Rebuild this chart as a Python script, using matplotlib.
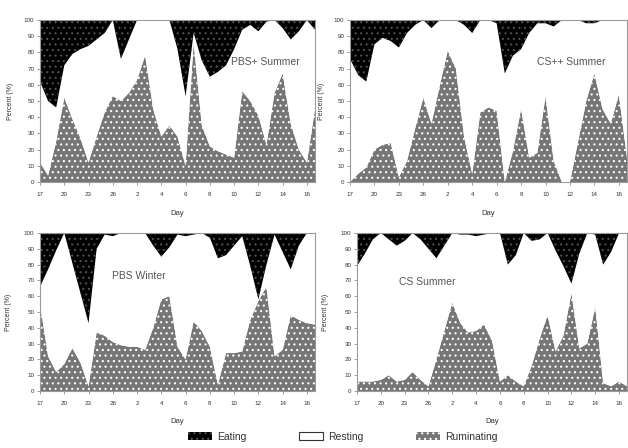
import matplotlib
matplotlib.use('Agg')
import matplotlib.pyplot as plt
from matplotlib.patches import Patch
import numpy as np

plt.rcParams['font.family'] = ['Liberation Sans', 'DejaVu Sans']
plt.rcParams['hatch.linewidth'] = 0.8

# ---------------- data (percent of time) ----------------
day_labels = ['17', '20', '23', '26', '2', '4', '6', '8', '10', '12', '14', '16']
y_ticks = [0, 10, 20, 30, 40, 50, 60, 70, 80, 90, 100]

pbs_plus_summer_eating = [38, 50, 54, 28, 21, 18, 16, 12, 8, 0, 24, 12, 0, 0, 0, 0, 0, 18,
                          47, 8, 25, 35, 32, 28, 18, 6, 3, 7, 1, 0, 5, 12, 7, 0, 6]
pbs_plus_summer_ruminating = [12, 4, 25, 52, 39, 27, 12, 28, 43, 53, 50, 55, 63, 78, 45, 28, 35, 28,
                              10, 86, 35, 22, 19, 17, 15, 56, 50, 41, 23, 55, 67, 36, 20, 12, 45]

cs_pp_summer_eating = [24, 34, 38, 15, 11, 13, 17, 8, 3, 0, 5, 0, 0, 0, 3, 8, 0, 0,
                       2, 33, 22, 18, 8, 2, 2, 4, 0, 0, 0, 2, 2, 0, 0, 0, 0]
cs_pp_summer_ruminating = [0, 5, 9, 20, 23, 24, 3, 13, 33, 52, 36, 59, 81, 70, 28, 5, 43, 46,
                           44, 0, 19, 45, 15, 18, 53, 13, 0, 0, 25, 50, 67, 45, 36, 54, 15]

pbs_winter_eating = [34, 23, 11, 0, 19, 38, 57, 10, 1, 2, 0, 0, 0, 0, 8, 15, 9, 1,
                     2, 1, 0, 3, 16, 14, 8, 2, 21, 42, 20, 1, 12, 23, 8, 0, 0]
pbs_winter_ruminating = [55, 22, 12, 17, 27, 18, 3, 37, 35, 31, 29, 28, 28, 26, 40, 58, 60, 28,
                         20, 44, 38, 28, 4, 24, 24, 25, 45, 57, 66, 22, 26, 48, 45, 43, 42]

cs_summer_eating = [21, 13, 4, 0, 4, 8, 5, 0, 4, 10, 16, 8, 0, 1, 1, 2, 1, 0,
                    0, 20, 14, 0, 5, 4, 0, 11, 21, 32, 13, 0, 1, 20, 12, 0, 0]
cs_summer_ruminating = [6, 6, 6, 7, 10, 6, 7, 12, 7, 3, 20, 38, 56, 43, 37, 38, 42, 32,
                        6, 10, 6, 3, 16, 33, 48, 25, 35, 62, 27, 30, 53, 5, 3, 6, 3]

panel_titles = ['PBS+ Summer', 'CS++ Summer', 'PBS Winter', 'CS Summer']
legend_labels = ['Eating', 'Resting', 'Ruminating']

# ---------------- styles ----------------
GRAY = '#767676'
EAT_DOT = '#505050'
TXT = '#333333'
W, H = 628, 448

fig = plt.figure(figsize=(W / 100, H / 100), dpi=100)


def px_axes(left, top, right, bottom):
    return fig.add_axes([left / W, 1 - bottom / H, (right - left) / W, (bottom - top) / H])


def draw(ax, eating, ruminating, title, title_pos, ylab_x):
    eating = np.asarray(eating, float)
    ruminating = np.asarray(ruminating, float)
    resting = 100 - eating - ruminating
    x = np.arange(len(ruminating))
    lvl1 = ruminating
    lvl2 = ruminating + resting
    ax.fill_between(x, 0, lvl1, facecolor=GRAY, edgecolor='white', hatch='...', linewidth=0)
    ax.fill_between(x, lvl1, lvl2, facecolor='white', linewidth=0)
    ax.fill_between(x, lvl2, 100, facecolor='black', edgecolor=EAT_DOT, hatch='...', linewidth=0)
    ax.set_xlim(0, len(x) - 1)
    ax.set_ylim(0, 100)
    ax.set_yticks(y_ticks)
    ax.set_yticklabels([str(v) for v in y_ticks])
    ax.set_xticks(np.arange(0, 3 * len(day_labels), 3))
    ax.set_xticklabels(day_labels)
    ax.tick_params(axis='both', labelsize=4.5, length=2, width=0.5, colors='#777', labelcolor=TXT)
    ax.tick_params(axis='x', pad=5)
    ax.tick_params(axis='y', pad=2)
    for s in ax.spines.values():
        s.set_color('#9a9a9a')
        s.set_linewidth(0.8)
    ax.set_ylabel('Percent (%)', fontsize=5, color=TXT)
    ax.yaxis.set_label_coords(ylab_x, 0.5)
    ax.set_xlabel('Day', fontsize=5.5, color=TXT)
    ax.xaxis.set_label_coords(0.5, -0.17)
    ax.text(title_pos[0], title_pos[1], title, transform=ax.transAxes, fontsize=7.5,
            color='#555555', ha='center', va='center')


ax1 = px_axes(40, 20, 315, 182)
ax2 = px_axes(350, 20, 627, 182)
ax3 = px_axes(40, 233, 315, 391)
ax4 = px_axes(357, 233, 627, 391)

draw(ax1, pbs_plus_summer_eating, pbs_plus_summer_ruminating, panel_titles[0], (0.82, 0.74), -0.095)
draw(ax2, cs_pp_summer_eating, cs_pp_summer_ruminating, panel_titles[1], (0.80, 0.74), -0.09)
draw(ax3, pbs_winter_eating, pbs_winter_ruminating, panel_titles[2], (0.36, 0.73), -0.1)
draw(ax4, cs_summer_eating, cs_summer_ruminating, panel_titles[3], (0.26, 0.69), -0.105)

handles = [
    Patch(facecolor='black', edgecolor=EAT_DOT, hatch='...', linewidth=0),
    Patch(facecolor='white', edgecolor='#333333', linewidth=0.8),
    Patch(facecolor=GRAY, edgecolor='white', hatch='...', linewidth=0),
]
fig.legend(handles, legend_labels, loc='center', bbox_to_anchor=(0.546, 0.025), ncol=3,
           frameon=False, fontsize=7.5, handlelength=2.3, handleheight=0.8,
           handletextpad=0.5, columnspacing=5.0, labelcolor=TXT)

fig.savefig('out.png', dpi=100)
